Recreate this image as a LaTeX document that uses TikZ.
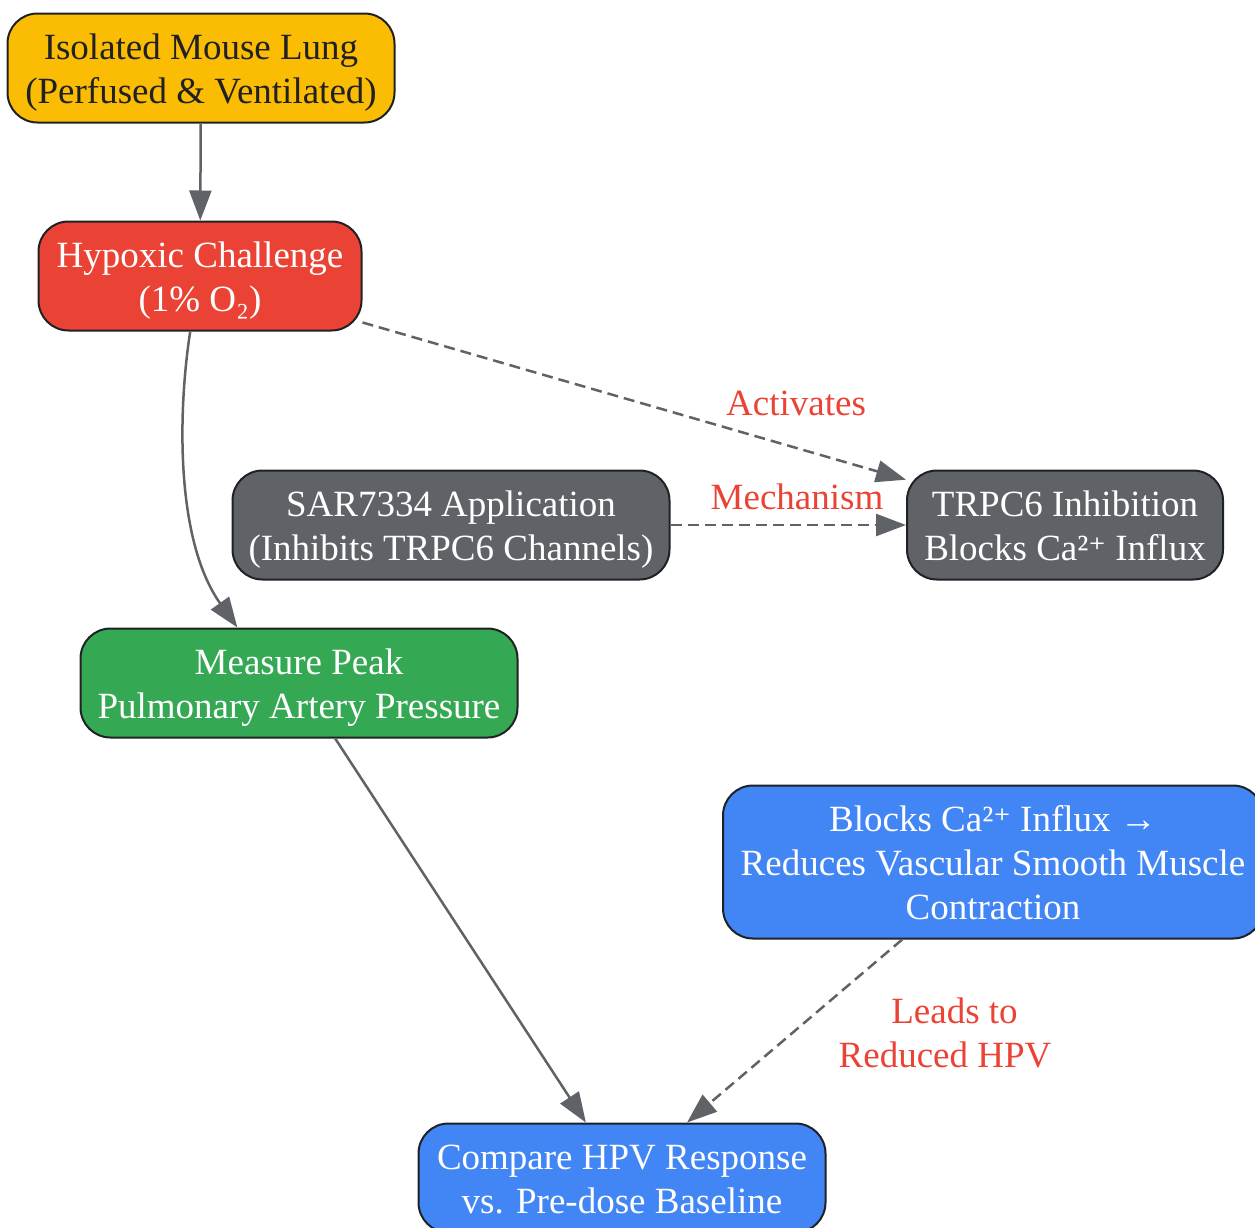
\documentclass[tikz,border=0pt]{standalone}
\usepackage{fontspec}
\setmainfont{Liberation Serif}
\newfontfamily\plusfont[Scale=0.9]{DejaVu Serif}
\usetikzlibrary{arrows.meta}

\definecolor{step yellow}{HTML}{FBBC04}
\definecolor{step red}{HTML}{EA4335}
\definecolor{step grey}{HTML}{5F6368}
\definecolor{step green}{HTML}{34A853}
\definecolor{step blue}{HTML}{4285F4}
\definecolor{box edge}{HTML}{202124}
\colorlet{label text}{step red}

% struts: first line and last line of a box
\newcommand{\headstrut}{\rule{0pt}{37pt}}
\newcommand{\tailstrut}{\rule[-10pt]{0pt}{0pt}}

\tikzset{
  stepbox/.style={draw=box edge, line width=2pt, rounded corners=30pt,
    align=center, inner sep=0pt, text=white,
    font=\fontsize{37}{44}\selectfont},
  linklabel/.style={text=label text, align=center,
    font=\fontsize{37}{44}\selectfont}
  }
\tikzstyle{flow} = [draw=step grey, line width=2.5pt,
  -{Triangle[length=30pt,width=22pt]}]
\tikzstyle{hint} = [flow, dash pattern=on 11pt off 6pt]

\begin{document}
\begin{tikzpicture}[x=1pt, y=-1pt]
    \useasboundingbox (0,0) rectangle (1255,1227);

    % Definition of the steps
    \node[stepbox, fill=step yellow, text=box edge, minimum width=387pt, minimum height=109pt]
      (lung) at (201,68) {\headstrut Isolated Mouse Lung\\(Perfused \& Ventilated)\tailstrut};
    \node[stepbox, fill=step red, minimum width=323pt, minimum height=109pt]
      (hypoxia) at (200,276) {\headstrut Hypoxic Challenge\\(1\% O₂)\tailstrut};
    \node[stepbox, fill=step grey, minimum width=437pt, minimum height=109pt]
      (sar) at (451,525) {\headstrut SAR7334 Application\\(Inhibits TRPC6 Channels)\tailstrut};
    \node[stepbox, fill=step grey, minimum width=316pt, minimum height=109pt]
      (trpc) at (1065,525) {\headstrut TRPC6 Inhibition\\Blocks Ca²{\plusfont ⁺} Influx\tailstrut};
    \node[stepbox, fill=step green, minimum width=437pt, minimum height=109pt]
      (measure) at (299,683) {\headstrut Measure Peak\\Pulmonary Artery Pressure\tailstrut};
    \node[stepbox, fill=step blue, minimum width=540pt, minimum height=153pt]
      (calcium) at (993,862) {\headstrut Blocks Ca²{\plusfont ⁺} Influx →\\Reduces Vascular Smooth Muscle\\Contraction\tailstrut};
    \node[stepbox, fill=step blue, minimum width=407pt, minimum height=109pt]
      (compare) at (622,1178) {\headstrut Compare HPV Response\\vs. Pre-dose Baseline\tailstrut};

    \node[linklabel] (activates) at (796,403) {Activates};
    \node[linklabel] (mechanism) at (797,497) {Mechanism};
    \node[linklabel] (leads) at (945,1033) {\hspace*{19pt}Leads to\\Reduced HPV};

    \path[flow] (lung) -- (hypoxia);
    \path[flow] (hypoxia.260) .. controls (178,410) and (175,540) .. (measure.138);
    \path[flow] (measure) -- (compare);
    \path[hint] (hypoxia) -- (trpc);
    \path[hint] (sar) -- (trpc);
    \path[hint] (calcium) -- (compare);
\end{tikzpicture}
\end{document}
